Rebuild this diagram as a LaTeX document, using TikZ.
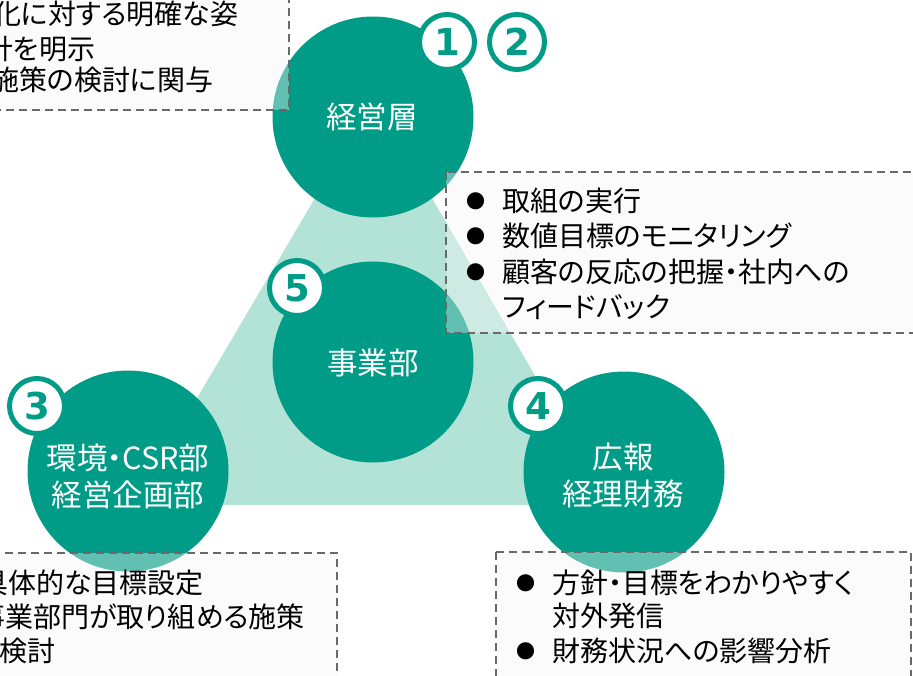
\documentclass[tikz,border=0pt]{standalone}
\usepackage{fontspec}
\setmainfont[RawFeature=+palt]{Noto Sans CJK JP}
\newfontfamily\numfont{DejaVu Sans}
\definecolor{mainteal}{RGB}{0,156,135}
\definecolor{lightteal}{RGB}{179,227,215}
\definecolor{boxline}{RGB}{105,105,105}
\definecolor{boxfill}{RGB}{246,246,246}
\begin{document}
\begin{tikzpicture}[x=1pt,y=-1pt,
  bigdisc/.style={circle,minimum size=201pt,inner sep=0pt,fill=mainteal},
  disctext/.style={text=white,align=center,inner sep=0pt,font=\fontsize{30.5}{37}\selectfont},
  badge/.style={circle,minimum size=55pt,inner sep=0pt,fill=white,draw=mainteal,line width=5pt,
    text=mainteal,font=\numfont\bfseries\fontsize{37}{37}\selectfont},
  infobox/.style={draw=boxline,line width=1.8pt,dash pattern=on 8pt off 5pt,fill=boxfill,fill opacity=0.4},
  boxtext/.style={anchor=west,inner sep=0pt,text=black,font=\fontsize{28}{28}\selectfont},
  bul/.style={inner sep=0pt,text=black,font=\fontsize{19}{19}\selectfont}
]
\useasboundingbox (0,0) rectangle (913,676);
\clip (0,0) rectangle (913,676);
\fill[white] (0,0) rectangle (913,676);
% triangle
\fill[lightteal] (374,98) -- (134,505) -- (610,505) -- cycle;
% discs
\node[bigdisc] (top) at (373,117) {};
\node[bigdisc] (mid) at (373,362) {};
\node[bigdisc] (left) at (128,471) {};
\node[bigdisc] (right) at (624,472) {};
\node[disctext] (toptext) at (372,117) {経営層};
\node[disctext] (midtext) at (373,363) {事業部};
\node[disctext] (lefttext) at (128,476) {環境・CSR部\\経営企画部};
\node[disctext] (righttext) at (623,475) {広報\\経理財務};
% badges
\node[badge] (b1) at (447,42) {1};
\node[badge] (b2) at (517,42) {2};
\node[badge] (b3) at (37,406) {3};
\node[badge] (b4) at (538,406) {4};
\node[badge] (b5) at (297,288) {5};
% boxes
\draw[infobox] (-20,-20) rectangle (289,110);
\draw[infobox] (446,172) rectangle (940,333);
\draw[infobox] (-20,553) rectangle (337,700);
\draw[infobox] (496,552) rectangle (911,700);
% top-left text
\node[boxtext] (tl1) at (-7,14) {化に対する明確な姿};
\node[boxtext] (tl2) at (-15,49) {針を明示};
\node[boxtext] (tl3) at (-9,80) {施策の検討に関与};
% mid-right text
\node[bul] (mb1) at (475.5,201) {●};
\node[bul] (mb2) at (475.5,236) {●};
\node[bul] (mb3) at (475.5,272) {●};
\node[boxtext] (mr1) at (502,201) {取組の実行};
\node[boxtext] (mr2) at (502,236) {数値目標のモニタリング};
\node[boxtext] (mr3) at (502,272) {顧客の反応の把握・社内への};
\node[boxtext] (mr4) at (502,307) {フィードバック};
% bottom-left text
\node[boxtext] (bl1) at (-20,583) {具体的な目標設定};
\node[boxtext] (bl2) at (-23,617) {事業部門が取り組める施策};
\node[boxtext] (bl3) at (-28,651) {の検討};
% bottom-right text
\node[bul] (rb1) at (526,583) {●};
\node[bul] (rb2) at (526,651) {●};
\node[boxtext] (br1) at (552,583) {方針・目標をわかりやすく};
\node[boxtext] (br2) at (552,616) {対外発信};
\node[boxtext] (br3) at (552,651) {財務状況への影響分析};
\end{tikzpicture}
\end{document}
